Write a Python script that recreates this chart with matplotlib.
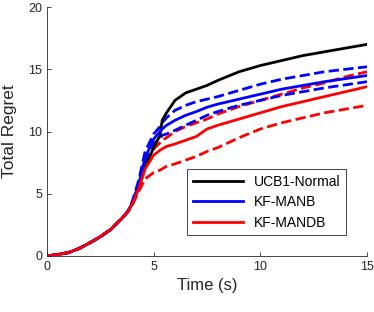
import matplotlib.pyplot as plt
import numpy as np

plt.rcParams['font.family'] = ['Liberation Sans', 'DejaVu Sans']

# time axis (s)
t = [0, 0.5, 1.0, 1.5, 2.0, 2.5, 3.0, 3.5, 3.8, 4.0, 4.3, 4.6, 5.0, 5.3, 5.4, 5.6, 6.0, 6.5,
     7.0, 7.5, 8.0, 9.0, 10.0, 11.0, 12.0, 13.0, 14.0, 15.0]

# shared early part (t <= 3.8)
early = [0, 0.12, 0.27, 0.6, 1.05, 1.55, 2.15, 3.0, 3.6]

ucb1 = early + [4.2, 5.5, 7.2, 8.7, 9.7, 10.9, 11.5, 12.5, 13.1, 13.4, 13.7, 14.1, 14.8, 15.3,
                15.7, 16.1, 16.4, 16.7, 17.0]

manb = early + [4.3, 5.8, 7.9, 9.4, 10.0, 10.2, 10.5, 10.9, 11.3, 11.6, 11.95, 12.2, 12.6, 13.0,
                13.4, 13.7, 14.0, 14.25, 14.5]
manb_hi = early + [4.4, 6.1, 8.4, 9.8, 10.4, 10.7, 11.1, 11.7, 12.1, 12.4, 12.6, 12.8, 13.3, 13.8,
                   14.2, 14.5, 14.8, 15.0, 15.2]
manb_lo = early + [4.2, 5.6, 7.5, 9.0, 9.5, 9.7, 9.8, 10.1, 10.5, 10.9, 11.3, 11.6, 12.1, 12.5,
                   12.9, 13.2, 13.5, 13.75, 14.0]

mandb = early + [4.2, 5.4, 7.0, 8.1, 8.5, 8.6, 8.8, 9.0, 9.3, 9.6, 10.2, 10.5, 11.0, 11.5,
                 12.0, 12.4, 12.8, 13.2, 13.6]
mandb_hi = early + [4.2, 5.5, 7.2, 8.6, 9.1, 9.3, 9.5, 10.0, 10.4, 10.7, 11.0, 11.4, 12.0, 12.5,
                    13.0, 13.5, 13.9, 14.4, 14.8]
mandb_lo = early + [4.1, 5.2, 6.2, 6.7, 6.9, 7.0, 7.2, 7.4, 7.7, 8.0, 8.4, 8.7, 9.5, 10.2,
                    10.7, 11.1, 11.5, 11.8, 12.1]

fig = plt.figure(figsize=(3.74, 3.12), dpi=100)
ax = fig.add_axes([0.1257, 0.1795, 0.8556, 0.798])

lw = 2.0
ax.plot(t, mandb_lo, color='red', lw=lw, ls='--')
ax.plot(t, mandb_hi, color='red', lw=lw, ls='--')
ax.plot(t, manb_lo, color='blue', lw=lw, ls='--')
ax.plot(t, manb_hi, color='blue', lw=lw, ls='--')
ax.plot(t, ucb1, color='black', lw=lw, label='UCB1-Normal')
ax.plot(t, manb, color='blue', lw=lw, label='KF-MANB')
ax.plot(t, mandb, color='red', lw=lw, label='KF-MANDB')

ax.set_xlim(0, 15)
ax.set_ylim(0, 20)
ax.set_xticks([0, 5, 10, 15])
ax.set_yticks([0, 5, 10, 15, 20])
ax.tick_params(direction='in', length=3, labelsize=9, colors='#262626', width=0.6)
for s in ['top', 'right']:
    ax.spines[s].set_visible(False)
for s in ['left', 'bottom']:
    ax.spines[s].set_color('#262626')
    ax.spines[s].set_linewidth(0.6)

ax.set_xlabel('Time (s)', fontsize=12, color='#262626')
ax.set_ylabel('Total Regret', fontsize=12.5, color='#262626')
ax.yaxis.set_label_coords(-0.095, 0.5)

leg = ax.legend(loc='lower right', bbox_to_anchor=(0.934, 0.084), fontsize=10,
                fancybox=False, edgecolor='#262626', framealpha=1,
                handlelength=3.6, borderpad=0.4, labelspacing=0.45,
                borderaxespad=0)
leg.get_frame().set_linewidth(0.6)

fig.savefig('out.png', dpi=100)
